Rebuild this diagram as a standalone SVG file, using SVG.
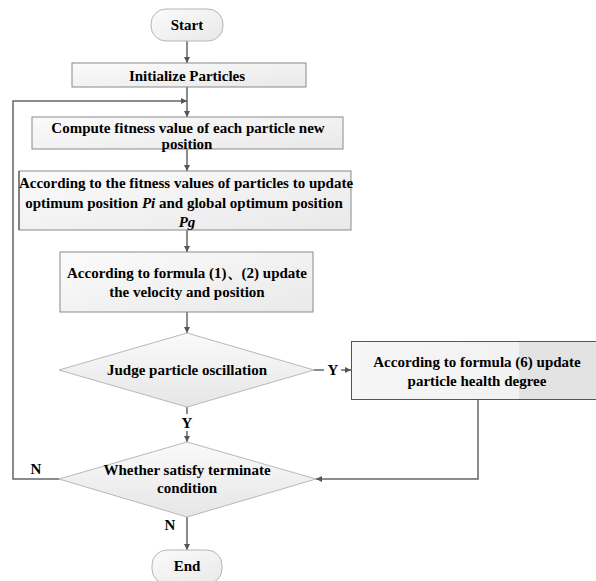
<svg xmlns="http://www.w3.org/2000/svg" width="596" height="581" viewBox="0 0 596 581">
<defs>
<linearGradient id="gBox" x1="0" y1="0" x2="1" y2="1">
<stop offset="0" stop-color="#fbfbfb"/>
<stop offset="1" stop-color="#e9e9e9"/>
</linearGradient>
<linearGradient id="gRight" x1="0" y1="0" x2="1" y2="0">
<stop offset="0" stop-color="#f6f6f6"/>
<stop offset="0.67" stop-color="#f2f2f2"/>
<stop offset="0.67" stop-color="#e3e3e3"/>
<stop offset="1" stop-color="#e3e3e3"/>
</linearGradient>
<linearGradient id="gDia" x1="0" y1="0" x2="0" y2="1">
<stop offset="0" stop-color="#fafafa"/>
<stop offset="1" stop-color="#e6e6e6"/>
</linearGradient>
<marker id="arr" viewBox="0 0 8 8" refX="8" refY="4" markerWidth="6" markerHeight="6" markerUnits="userSpaceOnUse" orient="auto">
<path d="M0,0 L8,4 L0,8 z" fill="#555"/>
</marker>
</defs>
<style>
.t{font-family:"Liberation Serif","Times New Roman",serif;font-weight:bold;font-size:15px;fill:#000;text-anchor:middle;dominant-baseline:central}
.i{font-style:italic}
.box{fill:url(#gBox);stroke:#8a8a8a;stroke-width:1}
.term{fill:url(#gBox);stroke:#b5b5b5;stroke-width:1}
.dia{fill:url(#gDia);stroke:#b8b8b8;stroke-width:1}
.c{fill:none;stroke:#666;stroke-width:1.5}
.ca{fill:none;stroke:#666;stroke-width:1.5;marker-end:url(#arr)}
</style>
<rect width="596" height="581" fill="#ffffff"/>

<g id="connectors">
<path class="ca" d="M187,41 V63"/>
<path class="ca" d="M187,87 V117"/>
<path class="ca" d="M59,479 H13 V101 H187"/>
<path class="ca" d="M187,149 V171"/>
<path class="ca" d="M187,230 V252"/>
<path class="ca" d="M187,312 V333"/>
<path class="c" d="M314,370 H324"/>
<path class="ca" d="M341,370 H351"/>
<path class="c" d="M187,407 V414"/>
<path class="ca" d="M187,431 V442"/>
<path class="ca" d="M478,399 V479 H316"/>
<path class="ca" d="M187,517 V550"/>
<text class="t" x="333" y="370">Y</text>
<text class="t" x="187" y="423">Y</text>
<text class="t" x="36" y="469">N</text>
<text class="t" x="170" y="525">N</text>
</g>

<g id="start">
<rect class="term" x="151" y="9" width="72" height="32" rx="15"/>
<text class="t" x="187" y="25">Start</text>
</g>

<g id="init">
<rect class="box" x="72" y="63" width="234" height="24"/>
<text class="t" x="187" y="76">Initialize Particles</text>
</g>

<g id="compute">
<rect class="box" x="32" y="117" width="311" height="32"/>
<text class="t" x="188" y="128">Compute fitness value of each particle new</text>
<text class="t" x="187" y="144">position</text>
</g>

<g id="fitness">
<rect class="box" x="19" y="171" width="332" height="59"/>
<path d="M19,171 V230" stroke="#444" stroke-width="1"/>
<text class="t" x="186" y="183">According to the fitness values of particles to update</text>
<text class="t" x="184" y="203">optimum position <tspan class="i">Pi</tspan> and global optimum position</text>
<text class="t i" x="187" y="222">Pg</text>
</g>

<g id="velocity">
<rect class="box" x="60" y="252" width="253" height="60"/>
<text class="t" x="187" y="273">According to formula (1)、(2) update</text>
<text class="t" x="187" y="292">the velocity and position</text>
</g>

<g id="judge">
<polygon class="dia" points="187,333 314,370 187,407 59,370"/>
<text class="t" x="187" y="370">Judge particle oscillation</text>
</g>

<g id="health">
<rect x="351.5" y="341.5" width="250" height="58" fill="url(#gRight)" stroke="#555" stroke-width="1"/>
<text class="t" x="477" y="362">According to formula (6) update</text>
<text class="t" x="477" y="381">particle health degree</text>
</g>

<g id="terminate">
<polygon class="dia" points="187,442 316,479 187,517 59,479"/>
<text class="t" x="187" y="470">Whether satisfy terminate</text>
<text class="t" x="187" y="488">condition</text>
</g>

<g id="end">
<rect class="term" x="152" y="550" width="70" height="34" rx="15"/>
<text class="t" x="187" y="566">End</text>
</g>
</svg>
